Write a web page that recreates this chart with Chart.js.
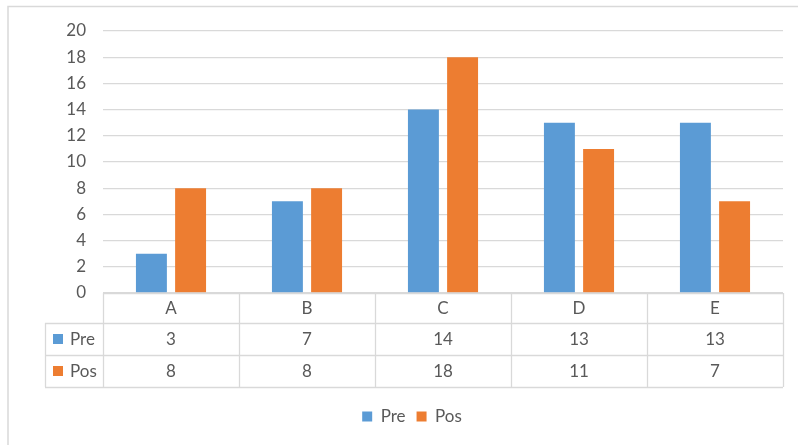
<!DOCTYPE html>
<html>
<head>
<meta charset="utf-8">
<script src="https://cdn.jsdelivr.net/npm/chart.js@4.4.1/dist/chart.umd.min.js"></script>
<style>
  html, body { margin: 0; padding: 0; background: #ffffff; }
  #wrap { width: 798px; height: 445px; position: relative; }
</style>
</head>
<body>
<div id="wrap"><canvas id="chart"></canvas></div>
<script>
// Categories and the two measured series
const categories = ['A', 'B', 'C', 'D', 'E'];
const seriesNames = ['Pre', 'Pos'];
const preValues = [3, 7, 14, 13, 13];
const posValues = [8, 8, 18, 11, 7];
// Value axis range
const yMin = 0;
const yMax = 20;
const yStep = 2;

const FONT = 'Lato, "Open Sans", sans-serif';
const FONT_SIZE = 17;
const TEXT = '#595959';
const LINE = '#D9D9D9';
const BLUE = '#5B9BD5';
const ORANGE = '#ED7D31';

const TABLE_LEFT = 45;            // left edge of the series-name column
const ROW_HEIGHTS = [30, 32, 32]; // category row, then one row per series

function hLine(ctx, x1, x2, y) {
  ctx.beginPath();
  ctx.moveTo(x1, Math.round(y) + 0.5);
  ctx.lineTo(x2, Math.round(y) + 0.5);
  ctx.stroke();
}
function vLine(ctx, x, y1, y2) {
  ctx.beginPath();
  ctx.moveTo(Math.round(x) + 0.5, y1);
  ctx.lineTo(Math.round(x) + 0.5, y2);
  ctx.stroke();
}

// Light outline around the chart frame
const frame = {
  id: 'frame',
  beforeDraw(chart) {
    const { ctx, width, height } = chart;
    ctx.save();
    ctx.strokeStyle = LINE;
    ctx.lineWidth = 1.5;
    ctx.beginPath();
    ctx.moveTo(8, height);
    ctx.lineTo(8, 6.5);
    ctx.lineTo(width, 6.5);
    ctx.stroke();
    ctx.restore();
  }
};

// Data table under the plot: category row plus one row per dataset
const dataTable = {
  id: 'dataTable',
  afterDraw(chart) {
    const { ctx, chartArea, scales } = chart;
    const x = scales.x;
    const left = chartArea.left, right = chartArea.right;
    const rows = [chartArea.bottom];
    ROW_HEIGHTS.forEach(h => rows.push(rows[rows.length - 1] + h));
    const bottom = rows[rows.length - 1];
    const step = (right - left) / categories.length;

    ctx.save();
    ctx.strokeStyle = LINE;
    ctx.lineWidth = 1.3;
    hLine(ctx, left, right, rows[0]);
    for (let i = 1; i < rows.length; i++) hLine(ctx, TABLE_LEFT, right, rows[i]);
    vLine(ctx, TABLE_LEFT, rows[1], bottom);
    vLine(ctx, left, rows[0], bottom);
    categories.forEach((c, i) => {
      vLine(ctx, x.getPixelForValue(i) + step / 2, rows[0], bottom);
    });

    ctx.fillStyle = TEXT;
    ctx.font = FONT_SIZE + 'px ' + FONT;
    ctx.textAlign = 'center';
    ctx.textBaseline = 'middle';
    categories.forEach((c, i) => {
      ctx.fillText(c, x.getPixelForValue(i), (rows[0] + rows[1]) / 2 + 1);
    });
    chart.data.datasets.forEach((ds, r) => {
      const yMid = (rows[r + 1] + rows[r + 2]) / 2 + 1;
      ds.data.forEach((v, i) => {
        ctx.fillStyle = TEXT;
        ctx.textAlign = 'center';
        ctx.fillText(String(v), x.getPixelForValue(i), yMid);
      });
      ctx.fillStyle = ds.backgroundColor;
      ctx.fillRect(TABLE_LEFT + 8, Math.round(yMid - 6), 10, 10);
      ctx.fillStyle = TEXT;
      ctx.textAlign = 'left';
      ctx.fillText(ds.label, TABLE_LEFT + 25, yMid);
    });
    ctx.restore();
  }
};

new Chart(document.getElementById('chart'), {
  type: 'bar',
  data: {
    labels: categories,
    datasets: [
      { label: seriesNames[0], data: preValues, backgroundColor: BLUE },
      { label: seriesNames[1], data: posValues, backgroundColor: ORANGE }
    ]
  },
  options: {
    responsive: true,
    maintainAspectRatio: false,
    animation: false,
    events: [],
    datasets: {
      bar: { categoryPercentage: 0.576, barPercentage: 0.79 }
    },
    layout: { padding: { left: 41, right: 15, top: 31, bottom: 10 } },
    scales: {
      x: {
        grid: { display: false },
        border: { display: false },
        ticks: { display: false },
        afterFit(scale) { scale.height = 104; }
      },
      y: {
        min: yMin,
        max: yMax,
        ticks: {
          stepSize: yStep,
          padding: 17,
          color: TEXT,
          font: { family: FONT, size: FONT_SIZE }
        },
        grid: { color: LINE, lineWidth: 1.3, drawTicks: false },
        border: { display: false },
        afterFit(scale) { scale.width = 62; }
      }
    },
    plugins: {
      legend: {
        position: 'bottom',
        labels: {
          boxWidth: 10,
          boxHeight: 10,
          color: TEXT,
          padding: 11,
          font: { family: FONT, size: FONT_SIZE }
        }
      },
      tooltip: { enabled: false }
    }
  },
  plugins: [frame, dataTable]
});
</script>
</body>
</html>
